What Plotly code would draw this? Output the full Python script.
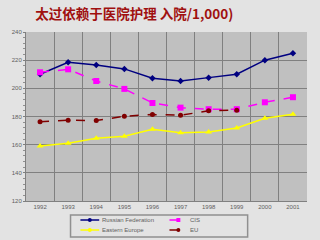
import plotly.graph_objects as go

years = ["1992", "1993", "1994", "1995", "1996", "1997", "1998", "1999", "2000", "2001"]
russia = [210, 218.5, 216.6, 213.8, 207.2, 205.2, 207.6, 210, 220, 224.9]
cis = [211.4, 213.5, 205.2, 199.6, 189.6, 186.3, 185.2, 185.2, 190.1, 193.7]
east_eu = [159.1, 161, 164.6, 166, 171, 168.4, 169, 171.9, 178.8, 181.6]
eu = [176.2, 177.4, 177.1, 180.2, 181.4, 180.9, 184, 184.5, None, None]
y_ticks = [120, 140, 160, 180, 200, 220, 240]

series = [
    ("Russian Federation", russia, "#000080", "solid", "diamond", 5),
    ("CIS", cis, "#ff00ff", "dash", "square", 6),
    ("Eastern Europe", east_eu, "#ffff00", "solid", "triangle-up", 6),
    ("EU", eu, "#800000", "dash", "circle", 5),
]

W, H = 320, 240
L, R, T, B = 23, 13, 32, 39
PW, PH = W - L - R, H - T - B


def px(x):
    return (x - L) / PW


def py(y):
    return (H - B - y) / PH


fig = go.Figure()
for name, vals, col, dash, sym, sz in series:
    fig.add_trace(go.Scatter(x=years, y=vals, name=name, mode="lines+markers",
                             line=dict(color=col, width=1.5, dash=dash),
                             marker=dict(symbol=sym, size=sz, color=col)))

# manual legend
shapes = [dict(type="rect", xref="paper", yref="paper", x0=px(68), x1=px(247), y0=py(237), y1=py(215),
               line=dict(color="#909090", width=1.5), fillcolor="#e3e3e3", layer="above")]
annotations = []
legend_pos = [(78, 97, 220), (168, 186, 220), (78, 97, 230), (168, 186, 230)]
for (name, vals, col, dash, sym, sz), (x0, x1, yy) in zip(series, legend_pos):
    shapes.append(dict(type="line", xref="paper", yref="paper", x0=px(x0), x1=px(x1), y0=py(yy), y1=py(yy),
                       line=dict(color=col, width=1.5, dash="solid" if dash == "solid" else "dash"), layer="above"))
    cx = (x0 + x1) / 2 if dash == "solid" else x0 + 9
    r = 2
    if sym == "square":
        shapes.append(dict(type="rect", xref="paper", yref="paper", x0=px(cx - r), x1=px(cx + r),
                           y0=py(yy + r), y1=py(yy - r), fillcolor=col, line=dict(width=0), layer="above"))
    else:
        shapes.append(dict(type="circle", xref="paper", yref="paper", x0=px(cx - r), x1=px(cx + r),
                           y0=py(yy + r), y1=py(yy - r), fillcolor=col, line=dict(width=0), layer="above"))
    annotations.append(dict(xref="paper", yref="paper", x=px(x1 + 1), y=py(yy), text=name, showarrow=False,
                            xanchor="left", yanchor="middle",
                            font=dict(family="Liberation Sans", size=6, color="#606060")))

fig.update_layout(
    width=W, height=H,
    margin=dict(l=L, r=R, t=T, b=B),
    paper_bgcolor="#e3e3e3", plot_bgcolor="#c0c0c0",
    title=dict(text="<b>太过依赖于医院护理 入院/1,000)</b>", x=0.11, xanchor="left", y=0.94, yanchor="middle",
               font=dict(family="Noto Sans CJK SC", size=13.5, color="#a01010")),
    showlegend=False,
    shapes=shapes,
    annotations=annotations,
    font=dict(family="Liberation Sans", size=6, color="#606060"),
)
fig.update_xaxes(type="category", range=[-0.5, 9.5], tickson="boundaries",
                 showgrid=True, gridcolor="#808080", gridwidth=1,
                 showline=True, linecolor="#808080", ticks="", tickfont=dict(size=6, color="#606060"))
fig.update_yaxes(range=[120, 240], tickvals=y_ticks, showgrid=True, gridcolor="#808080", gridwidth=1,
                 showline=True, linecolor="#808080", ticks="outside", ticklen=2, tickcolor="#808080",
                 minor=dict(dtick=4, ticks="outside", ticklen=2, tickcolor="#909090"),
                 tickfont=dict(size=6, color="#606060"), zeroline=False)
fig.write_html("out.html")
